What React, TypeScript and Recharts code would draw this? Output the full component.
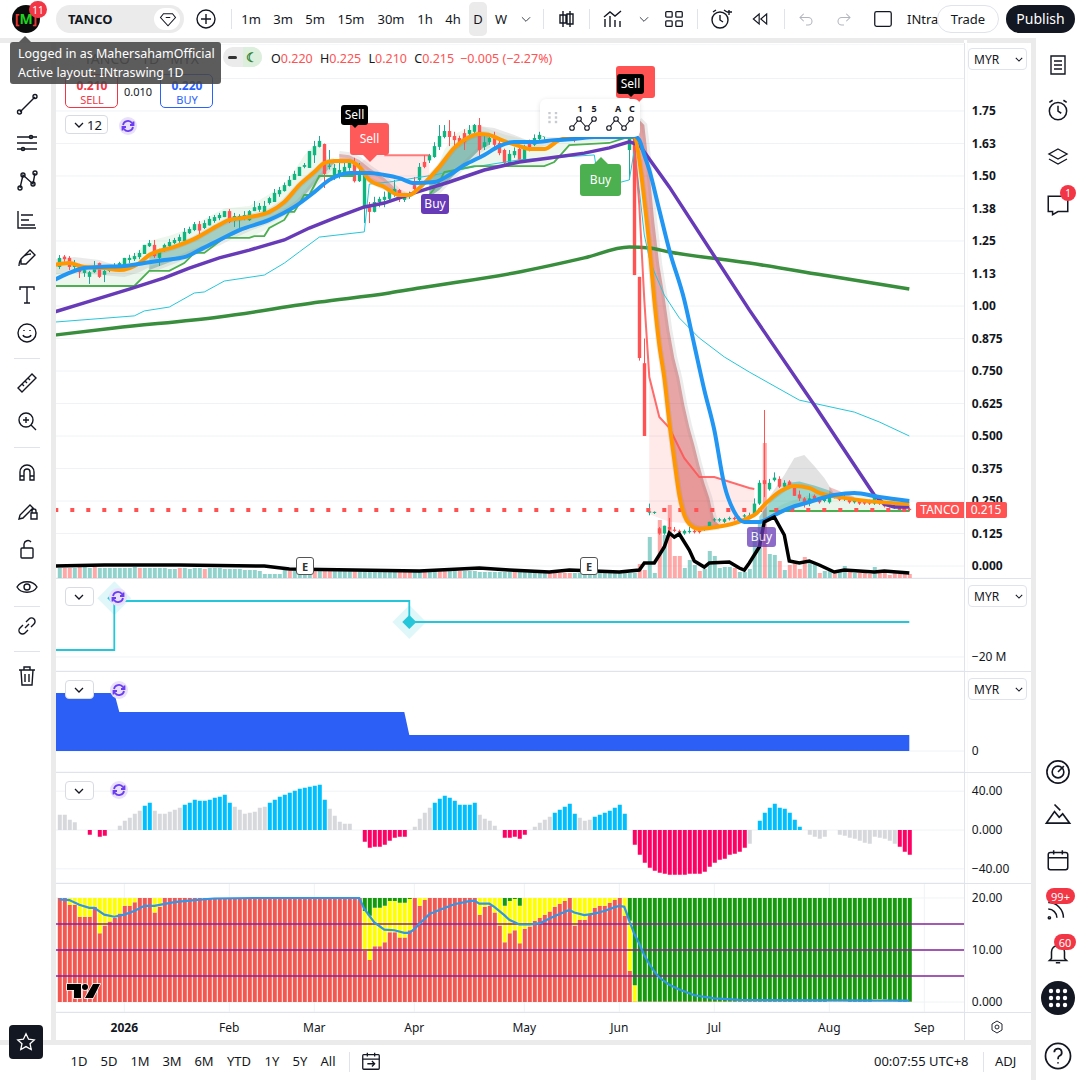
import React from "react";
import { ComposedChart, Bar, Line, Area, Cell, XAxis, YAxis, CartesianGrid, ReferenceLine, ReferenceDot } from "recharts";

// open, high, low, close for each daily bar
const candles = [
  [1.15,1.196,1.142,1.185],[1.19,1.196,1.17,1.18],[1.185,1.192,1.138,1.15],[1.15,1.177,1.14,1.162],[1.154,1.162,1.108,1.13],
  [1.127,1.15,1.112,1.138],[1.112,1.135,1.085,1.13],[1.13,1.173,1.127,1.154],[1.165,1.167,1.108,1.112],[1.12,1.15,1.092,1.135],
  [1.135,1.15,1.13,1.142],[1.138,1.165,1.135,1.15],[1.15,1.17,1.148,1.165],[1.158,1.185,1.155,1.185],[1.177,1.197,1.165,1.185],
  [1.18,1.204,1.173,1.192],[1.188,1.215,1.18,1.204],[1.2,1.235,1.2,1.235],[1.23,1.254,1.227,1.242],[1.235,1.254,1.185,1.192],
  [1.185,1.22,1.154,1.212],[1.212,1.24,1.208,1.235],[1.23,1.258,1.22,1.246],[1.242,1.262,1.238,1.254],[1.25,1.275,1.243,1.265],
  [1.25,1.3,1.245,1.285],[1.28,1.305,1.277,1.296],[1.292,1.323,1.288,1.315],[1.315,1.327,1.27,1.29],[1.3,1.33,1.296,1.319],
  [1.31,1.346,1.31,1.335],[1.327,1.35,1.32,1.342],[1.338,1.358,1.33,1.35],[1.342,1.365,1.342,1.365],[1.365,1.373,1.319,1.323],
  [1.327,1.358,1.304,1.346],[1.33,1.353,1.296,1.346],[1.335,1.365,1.33,1.35],[1.33,1.369,1.327,1.365],[1.365,1.404,1.365,1.38],
  [1.37,1.396,1.362,1.385],[1.35,1.404,1.35,1.385],[1.396,1.42,1.39,1.415],[1.4,1.45,1.4,1.435],[1.43,1.458,1.42,1.446],
  [1.442,1.475,1.44,1.465],[1.462,1.5,1.46,1.485],[1.485,1.52,1.485,1.508],[1.5,1.535,1.5,1.535],[1.535,1.55,1.53,1.542],
  [1.531,1.596,1.531,1.596],[1.58,1.635,1.55,1.615],[1.612,1.654,1.61,1.635],[1.623,1.625,1.454,1.508],[1.535,1.6,1.525,1.54],
  [1.504,1.546,1.485,1.531],[1.508,1.55,1.49,1.523],[1.508,1.55,1.5,1.535],[1.531,1.56,1.52,1.55],[1.546,1.57,1.475,1.48],
  [1.48,1.55,1.477,1.508],[1.38,1.504,1.319,1.504],[1.38,1.4,1.319,1.362],[1.362,1.42,1.36,1.4],[1.4,1.42,1.38,1.412],
  [1.408,1.44,1.38,1.42],[1.412,1.45,1.405,1.446],[1.438,1.485,1.42,1.45],[1.446,1.45,1.4,1.43],[1.408,1.435,1.4,1.42],
  [1.42,1.44,1.412,1.43],[1.465,1.496,1.44,1.45],[1.485,1.55,1.48,1.535],[1.554,1.58,1.53,1.535],[1.56,1.585,1.55,1.58],
  [1.573,1.63,1.57,1.615],[1.612,1.696,1.6,1.654],[1.65,1.696,1.645,1.673],[1.673,1.715,1.615,1.65],[1.654,1.67,1.608,1.638],
  [1.646,1.655,1.615,1.63],[1.665,1.68,1.6,1.63],[1.662,1.696,1.65,1.677],[1.67,1.7,1.665,1.696],[1.696,1.723,1.573,1.6],
  [1.612,1.665,1.6,1.63],[1.63,1.66,1.62,1.646],[1.646,1.67,1.6,1.62],[1.627,1.65,1.58,1.588],[1.6,1.605,1.535,1.55],
  [1.55,1.6,1.55,1.585],[1.58,1.61,1.57,1.596],[1.604,1.62,1.56,1.562],[1.562,1.62,1.555,1.615],[1.627,1.64,1.595,1.6],
  [1.62,1.66,1.615,1.646],[1.642,1.67,1.635,1.658],[1.65,1.67,1.64,1.665],[1.66,1.69,1.655,1.68],[1.68,1.7,1.66,1.67],
  [1.67,1.7,1.66,1.69],[1.69,1.72,1.68,1.7],[1.7,1.72,1.67,1.68],[1.68,1.7,1.63,1.66],[1.66,1.69,1.65,1.68],
  [1.68,1.71,1.67,1.7],[1.7,1.72,1.68,1.69],[1.69,1.7,1.66,1.68],[1.68,1.71,1.67,1.7],[1.7,1.73,1.69,1.72],
  [1.72,1.74,1.68,1.69],[1.69,1.72,1.67,1.71],[1.71,1.76,1.7,1.74],[1.74,1.78,1.66,1.67],[1.6,1.72,1.485,1.66],
  [1.7,1.74,1.119,1.119],[1.112,1.112,0.79,0.8],[0.78,0.875,0.5,0.5],[0.205,0.24,0.195,0.21],[0.205,0.21,0.2,0.208],
  [0.145,0.15,0.12,0.125],[0.125,0.155,0.12,0.155],[0.15,0.185,0.125,0.14],[0.14,0.15,0.13,0.135],[0.135,0.14,0.125,0.13],
  [0.125,0.14,0.12,0.135],[0.13,0.15,0.125,0.135],[0.135,0.14,0.125,0.13],[0.135,0.14,0.125,0.13],[0.14,0.15,0.135,0.15],
  [0.145,0.17,0.14,0.17],[0.175,0.185,0.17,0.18],[0.175,0.185,0.17,0.18],[0.17,0.185,0.165,0.18],[0.18,0.19,0.175,0.185],
  [0.185,0.19,0.175,0.18],[0.18,0.19,0.175,0.185],[0.19,0.2,0.185,0.195],[0.19,0.205,0.185,0.195],[0.2,0.26,0.195,0.24],
  [0.24,0.33,0.235,0.32],[0.33,0.6,0.265,0.315],[0.295,0.335,0.29,0.32],[0.33,0.36,0.325,0.34],[0.335,0.345,0.3,0.305],
  [0.305,0.33,0.3,0.32],[0.325,0.33,0.3,0.305],[0.31,0.315,0.27,0.27],[0.275,0.29,0.25,0.26],[0.26,0.265,0.225,0.24],
  [0.24,0.28,0.23,0.26],[0.27,0.275,0.25,0.255],[0.255,0.26,0.24,0.245],[0.25,0.27,0.245,0.26],[0.245,0.28,0.24,0.275],
  [0.275,0.28,0.26,0.265],[0.27,0.275,0.25,0.255],[0.26,0.28,0.25,0.262],[0.26,0.265,0.24,0.245],[0.245,0.26,0.24,0.255],
  [0.25,0.255,0.235,0.24],[0.25,0.255,0.235,0.24],[0.25,0.255,0.235,0.24],[0.24,0.27,0.235,0.265],[0.265,0.27,0.235,0.24],
  [0.24,0.245,0.225,0.23],[0.24,0.245,0.225,0.23],[0.23,0.235,0.22,0.225],[0.225,0.23,0.21,0.215],[0.22,0.225,0.21,0.215],
  [0.22,0.225,0.21,0.215],
];

// moving averages and levels, as [bar, price]
const fastMa = [[0,1.158],[3,1.165],[6,1.15],[10,1.146],[13,1.138],[17,1.165],[19,1.196],[24,1.227],[28,1.258],[33,1.312],[35,1.331],[39,1.342],[43,1.362],[46,1.4],[49,1.465],[52,1.515],[54,1.55],[56,1.558],[59,1.558],[61,1.535],[63,1.485],[66,1.458],[69,1.427],[71,1.427],[73,1.454],[75,1.492],[77,1.535],[80,1.608],[83,1.65],[85,1.662],[87,1.658],[89,1.642],[93,1.615],[95,1.604],[98,1.604],[101,1.638],[109,1.665],[114,1.669],[116,1.658],[117,1.562],[118,1.408],[119,1.235],[120,1.023],[121,0.85],[122,0.723],[123,0.554],[124,0.408],[125,0.273],[126,0.196],[127,0.162],[129,0.142],[131,0.146],[140,0.196],[142,0.235],[145,0.285],[148,0.308],[151,0.3],[153,0.281],[157,0.265],[171,0.238]];
const midMa = [[0,1.1],[3,1.127],[6,1.146],[9,1.15],[14,1.154],[18,1.165],[22,1.177],[26,1.188],[29,1.215],[33,1.254],[37,1.292],[43,1.331],[48,1.381],[52,1.438],[55,1.485],[59,1.512],[63,1.512],[66,1.504],[69,1.492],[72,1.473],[76,1.477],[79,1.504],[82,1.542],[86,1.581],[89,1.615],[92,1.631],[96,1.631],[100,1.638],[104,1.642],[108,1.65],[113,1.65],[116,1.654],[117,1.638],[118,1.581],[119,1.523],[121,1.369],[123,1.215],[126,1.023],[128,0.85],[130,0.677],[132,0.523],[134,0.312],[136,0.208],[138,0.169],[141,0.169],[144,0.196],[147,0.223],[151,0.246],[156,0.273],[160,0.281],[165,0.265],[171,0.25]];
const slowMa = [[0,0.977],[6,1.012],[15,1.065],[22,1.108],[27,1.146],[33,1.185],[39,1.215],[46,1.254],[51,1.3],[56,1.338],[62,1.381],[66,1.396],[72,1.435],[79,1.477],[86,1.523],[93,1.554],[99,1.569],[106,1.588],[111,1.608],[115,1.631],[117,1.619],[123,1.458],[139,0.985],[152,0.619],[164,0.273],[166,0.238],[168,0.227],[171,0.227]];
const longMa = [[0,0.888],[12,0.915],[33,0.958],[53,1.015],[67,1.05],[73,1.069],[93,1.131],[106,1.185],[115,1.227],[119,1.223],[123,1.208],[139,1.165],[155,1.115],[171,1.065]];
const thinTrail = [[0,0.938],[16,0.962],[18,0.981],[23,0.996],[28,1.05],[30,1.054],[34,1.096],[42,1.119],[46,1.165],[49,1.208],[53,1.265],[62,1.285],[63,1.469],[67,1.477],[72,1.492],[76,1.504],[84,1.535],[93,1.562],[108,1.581],[109,1.454],[115,1.485],[116,1.6],[117,1.446],[118,1.273],[119,1.185],[120,1.131],[122,1.042],[125,0.954],[129,0.877],[134,0.804],[139,0.746],[149,0.638],[160,0.592],[165,0.554],[171,0.5]];
const stopA = [[0,1.077],[16,1.077],[19,1.135],[23,1.135],[26,1.165],[28,1.204],[30,1.204],[34,1.262],[39,1.262],[40,1.269],[42,1.269],[43,1.3],[46,1.331],[47,1.362],[48,1.362],[50,1.427],[51,1.427],[53,1.5],[60,1.5]];
const stopB = [[75,1.427],[77,1.477],[78,1.515],[84,1.538],[98,1.538],[100,1.554],[103,1.619],[111,1.627],[114,1.646],[116,1.646]];
const stopC = [[143,0.212],[171,0.212]];
const stopRedA = [[66,1.58],[75,1.58]];
const stopRedB = [[116,1.638],[117,1.388],[118,1.023],[119,0.727],[121,0.573],[123,0.531],[126,0.415],[129,0.342],[132,0.342],[139,0.3],[140,0.296]];

// shaded bands, as [bar, lower, upper]
const paleGreenA = [[0,1.077,1.16],[13,1.077,1.165],[16,1.077,1.2],[19,1.135,1.25],[23,1.135,1.27],[26,1.165,1.29],[28,1.204,1.31],[30,1.204,1.335],[34,1.262,1.375],[39,1.262,1.385],[43,1.3,1.43],[46,1.331,1.47],[48,1.362,1.52],[50,1.427,1.58],[52,1.45,1.62],[53,1.5,1.62],[55,1.5,1.56],[60,1.5,1.54]];
const paleGreenB = [[75,1.427,1.45],[78,1.515,1.6],[80,1.52,1.66],[84,1.538,1.7],[90,1.538,1.66],[98,1.538,1.62],[103,1.619,1.64],[116,1.646,1.66]];
const paleGreenC = [[143,0.212,0.21],[146,0.212,0.24],[152,0.212,0.28],[160,0.212,0.28],[171,0.212,0.25]];
const paleRedA = [[61,1.535,1.545],[63,1.485,1.58],[66,1.458,1.58],[69,1.427,1.58],[71,1.427,1.58],[73,1.454,1.58],[75,1.492,1.58]];
const paleRedB = [[119,0.2,0.727],[121,0.185,0.573],[123,0.17,0.531],[126,0.165,0.415],[127,0.162,0.39],[129,0.142,0.342],[131,0.146,0.342],[132,0.15,0.342],[139,0.19,0.3],[140,0.196,0.296]];
const grayStart = [[0,1.12,1.18],[4,1.127,1.188],[9,1.12,1.177],[14,1.112,1.146],[17,1.13,1.165],[19,1.15,1.196]];
const tealA = [[19,1.138,1.196],[24,1.175,1.227],[28,1.208,1.258],[33,1.245,1.312],[35,1.265,1.331],[39,1.3,1.342],[43,1.33,1.362],[46,1.36,1.4],[49,1.4,1.465],[52,1.47,1.515],[54,1.51,1.55],[56,1.55,1.558]];
const redRibbonA = [[57,1.558,1.585],[59,1.558,1.58],[61,1.535,1.562],[63,1.485,1.531],[66,1.458,1.492],[69,1.427,1.438],[71,1.42,1.42]];
const tealB = [[75,1.419,1.492],[77,1.446,1.535],[80,1.504,1.608],[83,1.562,1.65],[85,1.6,1.662],[87,1.62,1.658]];
const grayB = [[85,1.662,1.692],[88,1.65,1.685],[92,1.62,1.658],[96,1.604,1.627],[100,1.625,1.64]];
const redRibbonB = [[117,1.562,1.715],[118,1.408,1.696],[119,1.235,1.523],[120,1.023,1.323],[121,0.85,1.158],[122,0.723,1.042],[123,0.554,0.908],[124,0.408,0.8],[125,0.273,0.723],[126,0.196,0.619],[127,0.162,0.535],[128,0.15,0.465],[129,0.142,0.388],[130,0.143,0.319],[131,0.146,0.262],[132,0.15,0.177],[133,0.15,0.158]];
const grayC = [[143,0.24,0.265],[146,0.285,0.35],[148,0.308,0.415],[150,0.3,0.427],[152,0.29,0.385],[154,0.275,0.338],[156,0.27,0.277]];
const tealC = [[141,0.17,0.19],[144,0.196,0.27],[147,0.223,0.32],[149,0.24,0.325],[152,0.255,0.31],[155,0.27,0.29],[156,0.273,0.275]];
const redRibbonC = [[155,0.27,0.304],[160,0.255,0.265]];

// volume, one value per bar, and its average as [bar, value]
const volume = [10,10,10,10,11,11,10,11,10,10,10,10,10,10,10,11,10,10,10,10,10,10,9,9,10,10,9,10,10,9,10,10,10,9,9,9,9,8,8,8,7,4,4,4,4,8,7,7,7,7,7,7,7,7,7,7,7,7,7,7,7,7,7,7,7,7,7,7,7,7,7,7,7,7,7,7,7,7,7,7,7,7,7,7,6,6,6,6,6,6,6,6,6,6,6,6,6,6,5,5,5,5,5,5,5,5,5,5,5,5,5,5,5,5,5,5,14,8,41,5,58,43,73,22,22,10,18,13,7,9,27,22,10,11,11,10,6,6,9,48,58,135,24,23,17,8,13,17,9,21,15,15,5,7,9,5,6,12,7,5,5,6,4,11,6,6,3,5,4,4,4];
const volumeDown = [2,3,5,8,17,25,30,47,52,54,55,60,69,70,71,74,77,78,81,92,99,100,101,102,103,117,118,121,123,124,125,129,136,142,145,147,148,149,150,153,156,159,161,162,163,165,166,167,168,169,170,171];
const volumeAvg = [[0,12],[10,13],[25,13],[42,12],[47,9],[60,8],[73,7],[85,10],[91,8],[99,6],[103,8],[113,6],[117,8],[118,15],[120,15],[122,31],[123,45],[124,41],[125,44],[127,28],[128,17],[130,11],[131,15],[135,16],[137,10],[138,8],[139,15],[141,31],[142,56],[144,61],[146,43],[147,17],[149,15],[151,17],[153,13],[156,6],[158,8],[164,6],[166,7],[171,5]];

// flow lines of the two middle panes
const netFlow = [[0,-17.67],[12,-1.33],[71,-8.33],[171,-8.33]];
const flowMarks = [[12,-0.4],[71,-8.33]];
const foreignFlow = [[0,58],[12,58],[13,39],[70,39],[71,16],[171,16]];

// momentum histogram
const momentum = [15.8,15.8,10.7,7.9,0,0,-4.8,0,-6.9,-5.8,0,0,4.5,9.6,12.7,16.8,19.9,25.1,28.2,19.9,16.8,16.8,18.9,21,23,26.1,28.2,31.3,30.2,30.2,31.3,33.3,34.4,36.4,28.2,24.1,21,16.8,17.9,18.9,23,24.1,28.2,31.3,34.4,36.4,38.5,40.5,42.6,43.6,44.7,45.7,46.7,31.3,22,14.8,8.6,6.5,6.5,0,0,-12,-18.2,-17.2,-17.2,-15.1,-11,-7.9,-6.9,-6.9,0,3.4,11.7,17.9,23,28.2,32.3,35.4,33.3,30.2,26.1,26.1,26.1,28.2,15.8,11.7,9.6,4.5,0,-7.9,-7.9,-6.9,-8.9,-4.8,0,3.4,7.6,10.7,13.7,17.9,21,24.1,27.1,16.8,12.7,9.6,10.7,13.7,15.8,17.9,19.9,23,26.1,16.8,0,-15.1,-25.4,-33.7,-38.8,-41.9,-44,-45,-46,-46,-46,-46,-45,-45,-45,-43,-37.8,-33.7,-30.6,-29.6,-25.4,-24.4,-22.3,-18.2,-14.1,0,9.6,17.9,23,27.1,23,22,17.9,10.7,3.4,0,-4.8,-6.9,-8.9,-6.9,0,0,-4.8,-5.8,-7.9,-8.9,-11,-13,-14.1,-6.9,-7.9,-8.9,-11,-14.1,-17.2,-22.3,-25.4];
const momentumUpRuns = [[18,19],[26,35],[43,54],[76,84],[100,104],[108,114],[141,149]];
const momentumDownRuns = [[7,7],[9,10],[62,70],[90,94],[116,138],[169,171]];

// bottom pane: stacked shares out of 20
const shareRed = [20,20,18.7,18.7,16.4,16.4,16.4,18.3,13.2,14.7,15.5,16.2,17,18.5,18.5,19.2,20,20,20,17.2,18.3,20,20,20,20,20,20,20,20,20,20,20,20,20,20,20,20,20,20,20,20,20,20,20,20,20,20,20,20,20,20,20,20,20,20,20,20,20,20,20,20,9.8,8.1,10.7,10.7,11.5,13.4,13.4,12.4,12.4,13.8,20,18.5,19.6,20,20,20,20,20,20,20,20,20,20,16.8,18.3,18.5,17.2,14.7,11.5,13.2,13.8,11.3,14.1,14.5,15.6,16.2,16.8,17.4,18.3,18.9,19.4,20,14.7,15.8,15.8,16.8,18.1,18.5,18.5,19.1,19.6,20,16.6,6,0.1,0.1,0.1,0.1,0.1,0.1,0.1,0.1,0.1,0.1,0.1,0.1,0.1,0.1,0.1,0.1,0.1,0.1,0.1,0.1,0.1,0.1,0.1,0.1,0.1,0.1,0.1,0.1,0.1,0.1,0.1,0.1,0.1,0.1,0.1,0.1,0.1,0.1,0.1,0.1,0.1,0.1,0.1,0.1,0.1,0.1,0.1,0.1,0.1,0.1,0.1,0.1,0.1,0.1,0.1,0.1];
const shareGreen = [[62,2.5],[63,3.4],[64,1.9],[65,1.9],[66,1.5],[67,0.6],[68,0.6],[69,0.9],[70,0.9],[71,0.2],[90,1.5],[91,0.6],[92,0.2],[93,1.5],[115,4.4],[116,16.8]];
const shareYellowLate = [[155,0.3],[156,0.3],[157,0.3],[158,0.3],[164,0.5],[165,0.5],[166,0.4],[167,0.3],[168,0.3]];
const shareAvg = [[1,19.75],[3,19.6],[5,18.7],[7,18.1],[8,18.1],[10,16.8],[12,16.4],[14,16.8],[16,17.5],[18,18.5],[20,18.5],[24,19.2],[28,19.6],[32,19.9],[40,20],[61,20],[62,17.9],[64,15.3],[66,13.9],[68,13.8],[70,13.3],[71,13.3],[72,14],[73,15],[75,16.9],[77,17.7],[80,18.8],[83,19.4],[84,19.5],[85,18.9],[87,18.9],[88,18.3],[90,16.7],[91,15.8],[93,14.9],[95,14.9],[97,15.1],[100,16.5],[103,17.7],[104,17.2],[106,16.7],[108,17],[110,17.5],[112,18.2],[113,18.5],[114,18.3],[115,15.6],[116,13.1],[117,11.2],[118,9],[119,7.3],[120,5.9],[121,4.7],[123,3.3],[125,2.4],[128,1.3],[132,0.7],[137,0.4],[171,0.25]];

// axes
const monthBars = [14,35,52,72,94,113,132,155,174];
const monthNames = ["2026","Feb","Mar","Apr","May","Jun","Jul","Aug","Sep"];
const priceTicks = [0,0.125,0.25,0.375,0.5,0.625,0.75,0.875,1,1.125,1.25,1.375,1.5,1.625,1.75,1.875];
const priceLabels = ["0.000","0.125","0.250","0.375","0.500","0.625","0.750","0.875","1.00","1.13","1.25","1.38","1.50","1.63","1.75",""];
const lastClose = 0.215;

const rows: any[] = Array.from({ length: 183 }, (_, n) => ({ n }));
const put = (key: string, pts: any[]) => pts.forEach(([n, v]) => { rows[n][key] = v; });
const band = (key: string, pts: any[]) => pts.forEach(([n, lo, hi]) => { rows[n][key] = [lo, hi]; });

candles.forEach((c, i) => {
  rows[i + 1].ohlc = c;
  rows[i + 1].hl = [c[2], c[1]];
  rows[i + 1].last = lastClose;
});
rows[0].last = lastClose;
volume.forEach((v, i) => { rows[i + 1].vol = v; });
momentum.forEach((v, i) => { rows[i + 1].mom = v; });
shareRed.slice(0, 171).forEach((v, i) => {
  const n = i + 1;
  const late = shareYellowLate.find((p) => p[0] === n);
  const g = n >= 117 ? 20 - v - (late ? late[1] : 0) : (shareGreen.find((p) => p[0] === n) || [0, 0])[1];
  rows[n].red = v;
  rows[n].green = g;
  rows[n].yellow = 20 - v - g;
});
put("fast", fastMa); put("mid", midMa); put("slow", slowMa); put("long", longMa); put("thin", thinTrail);
put("stopA", stopA); put("stopB", stopB); put("stopC", stopC); put("stopRedA", stopRedA); put("stopRedB", stopRedB);
put("volAvg", volumeAvg); put("netFlow", netFlow); put("foreign", foreignFlow); put("shareAvg", shareAvg);
const bands: any[] = [
  ["paleGreenA", paleGreenA, "#4caf50", 0.1], ["paleGreenB", paleGreenB, "#4caf50", 0.1], ["paleGreenC", paleGreenC, "#4caf50", 0.12],
  ["paleRedA", paleRedA, "#ff5252", 0.13], ["paleRedB", paleRedB, "#ff5252", 0.13],
  ["grayStart", grayStart, "#8a8a8a", 0.18], ["grayB", grayB, "#8a8a8a", 0.2], ["grayC", grayC, "#8a8a8a", 0.25],
  ["tealA", tealA, "#3d9488", 0.4], ["tealB", tealB, "#3d9488", 0.55], ["tealC", tealC, "#26a69a", 0.45],
  ["redRibbonA", redRibbonA, "#c62828", 0.3], ["redRibbonB", redRibbonB, "#c62828", 0.42], ["redRibbonC", redRibbonC, "#c62828", 0.28],
];
bands.forEach(([k, pts]) => band(k, pts));
const haloed = ["tealA", "tealB", "redRibbonA", "redRibbonB"];

const inRuns = (n: number, runs: number[][]) => runs.some(([a, b]) => n >= a && n <= b);
const FONT = "'Noto Sans', sans-serif";
const GRID = "#f0f2f6";
const LINE = "#e0e3eb";
const margin = { top: 0, right: 43.2, bottom: 0, left: 51.8 };
const tickStyle = { fill: "#131722", fontSize: 12, fontFamily: FONT };

function Candle(props: any) {
  const { x, y, width, height, payload } = props;
  if (!payload.ohlc || isNaN(y)) return null;
  const [o, h, l, c] = payload.ohlc;
  const py = (p: number) => y + ((h - p) / (h - l)) * height;
  const up = c >= o;
  const mid = x + width / 2;
  const top = py(Math.max(o, c));
  const bot = py(Math.min(o, c));
  return (
    <g>
      <rect x={mid - 0.5} y={y} width={1} height={height} fill={up ? "#26a69a" : "#ff5252"} />
      <rect x={x} y={top} width={width} height={Math.max(bot - top, 1)} fill={up ? "#0fb57f" : "#ff5252"} />
    </g>
  );
}

function Pane({ top, height, domain, ticks, format, bold, showTicks = true, grid = false, bottomAxis = false, children }: any) {
  const lookup = format || ((v: any) => v);
  return (
    <div style={{ position: "absolute", left: 0, top }}>
      <ComposedChart width={1080} height={height} data={rows} margin={margin} barGap={0}>
        {grid && <CartesianGrid stroke={GRID} strokeWidth={1} />}
        <XAxis
          dataKey="n"
          type="category"
          scale="band"
          ticks={monthBars}
          interval={0}
          height={bottomAxis ? 28 : 0}
          axisLine={false}
          tickLine={false}
          tick={bottomAxis ? (p: any) => {
            const label = monthNames[monthBars.indexOf(p.payload.value)];
            return <text x={p.x} y={p.y + 12} textAnchor="middle" fontSize={12} fontFamily={FONT} fontWeight={label === "2026" ? 700 : 400} fill="#131722">{label}</text>;
          } : false}
        />
        <YAxis
          orientation="right"
          width={70}
          domain={domain}
          allowDataOverflow
          ticks={ticks}
          interval={0}
          axisLine={false}
          tickLine={false}
          tickSize={0}
          tickMargin={5}
          tick={showTicks ? { ...tickStyle, fontWeight: bold ? 700 : 400 } : false}
          tickFormatter={lookup}
        />
        {children}
      </ComposedChart>
    </div>
  );
}

const priceDomain = [-0.04615, 2.00769];

function MainPane() {
  const fmt = (v: number) => priceLabels[priceTicks.indexOf(v)];
  return (
    <>
      <Pane top={44} height={534} domain={priceDomain} ticks={priceTicks} format={fmt} bold grid />
      <Pane top={44} height={534} domain={[0, 534]} showTicks={false}>
        <Bar dataKey="vol" barSize={4} isAnimationActive={false}>
          {rows.map((r) => (
            <Cell key={r.n} fill={volumeDown.includes(r.n) ? "rgba(255,82,82,0.5)" : "rgba(38,166,154,0.5)"} />
          ))}
        </Bar>
      </Pane>
      <Pane top={44} height={534} domain={priceDomain} ticks={priceTicks} showTicks={false}>
        {bands.map(([k, , fill, op]) => (
          <Area key={k} dataKey={k} type="linear" connectNulls stroke={haloed.includes(k) ? "#8a8a8a" : "none"} strokeOpacity={0.16} strokeWidth={6} fill={fill} fillOpacity={op} isAnimationActive={false} dot={false} activeDot={false} />
        ))}
        <Line dataKey="long" stroke="#388e3c" strokeWidth={3.5} dot={false} connectNulls type="monotone" isAnimationActive={false} />
        <Line dataKey="thin" stroke="#26c6da" strokeWidth={1} dot={false} connectNulls isAnimationActive={false} />
        <Line dataKey="stopA" stroke="#4caf50" strokeWidth={1.8} dot={false} connectNulls isAnimationActive={false} />
        <Line dataKey="stopB" stroke="#4caf50" strokeWidth={1.8} dot={false} connectNulls isAnimationActive={false} />
        <Line dataKey="stopC" stroke="#4caf50" strokeWidth={2} dot={false} connectNulls isAnimationActive={false} />
        <Line dataKey="stopRedA" stroke="#ff5252" strokeOpacity={0.75} strokeWidth={2} dot={false} connectNulls isAnimationActive={false} />
        <Line dataKey="stopRedB" stroke="#ff5252" strokeOpacity={0.85} strokeWidth={2} dot={false} connectNulls isAnimationActive={false} />
        <Line dataKey="last" stroke="#ff5252" strokeWidth={4} strokeDasharray="4 12" dot={false} isAnimationActive={false} />
        <Line dataKey="slow" stroke="#673ab7" strokeWidth={3.5} dot={false} connectNulls isAnimationActive={false} />
        <Line dataKey="fast" stroke="#ff9800" strokeWidth={4} dot={false} connectNulls type="monotone" isAnimationActive={false} />
        <Line dataKey="mid" stroke="#2196f3" strokeWidth={4} dot={false} connectNulls type="monotone" isAnimationActive={false} />
        <Bar dataKey="hl" barSize={3.4} shape={Candle} isAnimationActive={false} />
      </Pane>
      <Pane top={44} height={534} domain={[0, 534]} showTicks={false}>
        <Line dataKey="volAvg" stroke="#000000" strokeWidth={3.5} dot={false} connectNulls isAnimationActive={false} />
      </Pane>
    </>
  );
}

const Diamond = (props: any) => (
  <g>
    <rect x={props.cx - 12} y={props.cy - 12} width={24} height={24} fill="#26c6da" fillOpacity={0.14} transform={`rotate(45 ${props.cx} ${props.cy})`} />
    <rect x={props.cx - 5} y={props.cy - 5} width={10} height={10} fill="#26c6da" transform={`rotate(45 ${props.cx} ${props.cy})`} />
  </g>
);

function LowerPanes() {
  return (
    <>
      <Pane top={578} height={93} domain={[-24.67, 6.33]} ticks={[-20]} format={() => "\u221220 M"} grid>
        <Line dataKey="netFlow" type="stepAfter" stroke="#26c6da" strokeWidth={1.8} dot={false} connectNulls isAnimationActive={false} />
        {flowMarks.map(([n, v]) => (
          <ReferenceDot key={n} x={n} y={v} r={5} shape={Diamond} isFront />
        ))}
      </Pane>
      <Pane top={671} height={101} domain={[-21, 80]} ticks={[0]} format={() => "0"} grid>
        <Area dataKey="foreign" type="linear" connectNulls stroke="none" fill="#2b5ff5" fillOpacity={1} isAnimationActive={false} dot={false} activeDot={false} />
      </Pane>
      <Pane top={772} height={111} domain={[-54.6, 59.8]} ticks={[-40, 0, 40]} format={(v: number) => (v === 40 ? "40.00" : v === 0 ? "0.000" : "\u221240.00")} grid>
        <Bar dataKey="mom" barSize={4} isAnimationActive={false}>
          {rows.map((r) => (
            <Cell key={r.n} fill={inRuns(r.n, momentumUpRuns) ? "#00bfff" : inRuns(r.n, momentumDownRuns) ? "#ff0063" : "#d6d8dc"} />
          ))}
        </Bar>
      </Pane>
      <Pane top={883} height={157} domain={[-1.92, 22.88]} ticks={[0, 10, 20]} format={(v: number) => (v === 0 ? "0.000" : v === 10 ? "10.00" : "20.00")} grid bottomAxis>
        <Bar dataKey="red" stackId="s" barSize={4} fill="#f4574f" isAnimationActive={false} />
        <Bar dataKey="yellow" stackId="s" barSize={4} fill="#ffff00" isAnimationActive={false} />
        <Bar dataKey="green" stackId="s" barSize={4} fill="#149a0c" isAnimationActive={false} />
        <ReferenceLine y={15} stroke="#86229a" strokeWidth={1.3} />
        <ReferenceLine y={10} stroke="#86229a" strokeWidth={1.3} />
        <ReferenceLine y={5} stroke="#86229a" strokeWidth={1.3} />
        <Line dataKey="shareAvg" stroke="#2f96e8" strokeWidth={2.2} dot={false} connectNulls isAnimationActive={false} />
      </Pane>
    </>
  );
}

const Box = ({ x, y, w, h, style, children }: any) => (
  <div style={{ position: "absolute", left: x, top: y, width: w, height: h, boxSizing: "border-box", ...style }}>{children}</div>
);
const Txt = ({ x, y, size = 13, color = "#131722", weight = 400, center, children }: any) => (
  <div style={{ position: "absolute", left: x, top: y, transform: `translate(${center ? "-50%" : "0"},-50%)`, fontSize: size, color, fontWeight: weight, whiteSpace: "nowrap", lineHeight: 1 }}>{children}</div>
);
const Icon = ({ x, y, s = 24, sw = 1.4, color = "#131722", children }: any) => (
  <svg style={{ position: "absolute", left: x - s / 2, top: y - s / 2 }} width={s} height={s} viewBox="0 0 24 24" fill="none" stroke={color} strokeWidth={sw}>{children}</svg>
);
const Sync = ({ x, y }: any) => (
  <Box x={x - 9} y={y - 9} w={18} h={18} style={{ borderRadius: 9, background: "#e9e1fb" }}>
    <svg width={18} height={18} viewBox="0 0 18 18" fill="none" stroke="#6a3df0" strokeWidth={1.8}>
      <path d="M4 8a5 5 0 0 1 9-2l1 1.5M14 10a5 5 0 0 1-9 2l-1-1.5" />
      <path d="M14.5 4.5v3.5h-3.5M3.5 13.5v-3.5h3.5" />
    </svg>
  </Box>
);
const Chip = ({ x, y, w = 29, label }: any) => (
  <Box x={x} y={y} w={w} h={19} style={{ border: "1px solid #d8dbe2", borderRadius: 4, background: "#fff" }}>
    <svg style={{ position: "absolute", left: 8, top: 6 }} width={10} height={6} viewBox="0 0 10 6" fill="none" stroke="#131722" strokeWidth={1.3}><path d="M1 1l4 4 4-4" /></svg>
    {label && <Txt x={21} y={9} size={13}>{label}</Txt>}
  </Box>
);
const Currency = ({ y }: any) => (
  <Box x={968} y={y} w={59} h={22} style={{ border: "1px solid #e0e3eb", borderRadius: 4, background: "#fff" }}>
    <Txt x={5} y={10.5} size={12}>MYR</Txt>
    <svg style={{ position: "absolute", left: 46, top: 8 }} width={8} height={5} viewBox="0 0 10 6" fill="none" stroke="#131722" strokeWidth={1.3}><path d="M1 1l4 4 4-4" /></svg>
  </Box>
);
const Tag = ({ x, y, w, h, bg, label, size = 12, arrow, tip, alpha = 1 }: any) => (
  <Box x={x} y={y} w={w} h={h} style={{ background: bg, borderRadius: 3, opacity: alpha }}>
    <Txt x={w / 2} y={h / 2} size={size} color="#fff" center>{label}</Txt>
    {arrow === "down" && <div style={{ position: "absolute", left: w / 2 - (tip || 7), top: h, borderLeft: `${tip || 7}px solid transparent`, borderRight: `${tip || 7}px solid transparent`, borderTop: `${tip || 7}px solid ${bg}` }} />}
    {arrow === "up" && <div style={{ position: "absolute", left: w / 2 - (tip || 7), top: -(tip || 7), borderLeft: `${tip || 7}px solid transparent`, borderRight: `${tip || 7}px solid transparent`, borderBottom: `${tip || 7}px solid ${bg}` }} />}
  </Box>
);
const Earnings = ({ x }: any) => (
  <Box x={x} y={557} w={18} h={18} style={{ background: "#fff", border: "1.5px solid #555", borderRadius: 3 }}>
    <Txt x={8} y={8} size={11} weight={700} color="#333" center>E</Txt>
  </Box>
);
const Zig = ({ x, y }: any) => (
  <svg style={{ position: "absolute", left: x, top: y }} width={28} height={18} viewBox="0 0 28 18" fill="#fff" stroke="#131722" strokeWidth={1.1}>
    <path d="M3 14L10 5L18 14L25 5" fill="none" />
    <circle cx={3} cy={14} r={2.3} /><circle cx={10} cy={5} r={2.3} /><circle cx={18} cy={14} r={2.3} /><circle cx={25} cy={5} r={2.3} />
  </svg>
);

const intervals: any[] = [["1m",251],["3m",283],["5m",315],["15m",351],["30m",391],["1h",425],["4h",453],["W",501]];
const ranges: any[] = [["1D",79],["5D",109],["1M",140],["3M",172],["6M",204],["YTD",239],["1Y",272],["5Y",300],["All",328]];

function Toolbars() {
  return (
    <>
      {/* white gutters that frame the panes */}
      <Box x={0} y={0} w={51} h={1080} style={{ background: "#fff" }} />
      <Box x={51} y={0} w={5} h={1080} style={{ background: "#ebebeb" }} />
      <Box x={0} y={0} w={1080} h={38} style={{ background: "#fff" }} />
      <Box x={0} y={38} w={1080} h={5} style={{ background: "#ebebeb" }} />
      <Box x={964} y={40} w={3} h={1000} style={{ background: "#fff" }} />
      <Box x={964} y={43} w={1} h={997} style={{ background: LINE }} />
      <Box x={1036} y={0} w={44} h={1080} style={{ background: "#fff" }} />
      <Box x={1031} y={38} w={5} h={1042} style={{ background: "#ebebeb" }} />
      <Box x={0} y={1040} w={1032} h={5} style={{ background: "#ebebeb" }} />
      <Box x={0} y={1045} w={1031} h={35} style={{ background: "#fff" }} />
      <Box x={56} y={578} w={975} h={1} style={{ background: LINE }} />
      <Box x={56} y={671} w={975} h={1} style={{ background: LINE }} />
      <Box x={56} y={772} w={975} h={1} style={{ background: LINE }} />
      <Box x={56} y={883} w={975} h={1} style={{ background: LINE }} />
      <Box x={56} y={1012} w={975} h={1} style={{ background: LINE }} />

      {/* top bar */}
      <Box x={12} y={5} w={28} h={28} style={{ borderRadius: 14, background: "#0a0a0a" }}>
        <Txt x={14} y={14} size={14} weight={700} color="#e53935" center>[<span style={{ color: "#1fd11f" }}>M</span>]</Txt>
      </Box>
      <Box x={29} y={1} w={18} h={17} style={{ borderRadius: 9, background: "#f23645" }}><Txt x={9} y={8.5} size={10} color="#fff" center>11</Txt></Box>
      <Box x={56} y={5} w={128} h={28} style={{ borderRadius: 14, background: "#ebebeb" }}>
        <Txt x={12} y={14} size={13} weight={700}>TANCO</Txt>
        <Box x={98} y={3} w={26} h={22} style={{ borderRadius: 11, background: "#fff" }} />
      </Box>
      <Icon x={168} y={19} s={18}><path d="M6 5h12l4 5-10 11L2 10z" /><path d="M9 10h6" /></Icon>
      <Icon x={206} y={19} s={24}><circle cx={12} cy={12} r={9} /><path d="M12 7v10M7 12h10" /></Icon>
      {intervals.map(([t, x]) => <Txt key={t} x={x} y={19} size={13} center>{t}</Txt>)}
      <Box x={469} y={2} w={18} h={34} style={{ background: "#ebebeb", borderRadius: 5 }} />
      <Txt x={478} y={19} size={13} center>D</Txt>
      <Icon x={526} y={19} s={14}><path d="M5 9l7 7 7-7" /></Icon>
      <Box x={231} y={9} w={1} h={20} style={{ background: LINE }} />
      <Box x={543} y={9} w={1} h={20} style={{ background: LINE }} />
      <Icon x={566} y={19}><path d="M9 4v16M6 8h6v8H6zM16 4v16M13 7h6v10h-6z" /></Icon>
      <Box x={589} y={9} w={1} h={20} style={{ background: LINE }} />
      <Icon x={613} y={19}><path d="M4 20V12M9 20V9M14 20v-7M19 20v-6M3 10l6-5 5 4 6-5" /></Icon>
      <Icon x={644} y={19} s={14}><path d="M5 9l7 7 7-7" /></Icon>
      <Icon x={674} y={19} s={22}><rect x={3} y={4} width={7} height={6} rx={1} /><rect x={14} y={4} width={7} height={6} rx={1} /><rect x={3} y={14} width={7} height={6} rx={1} /><rect x={14} y={14} width={7} height={6} rx={1} /></Icon>
      <Box x={697} y={9} w={1} h={20} style={{ background: LINE }} />
      <Icon x={721} y={19}><circle cx={11} cy={13} r={8} /><path d="M11 8v5l3 2M4 5l3-2M18 5l-3-2M20 3v5M18 5h5" /></Icon>
      <Icon x={760} y={19} s={20}><path d="M11 6l-7 6 7 6zM20 6l-7 6 7 6z" /></Icon>
      <Box x={784} y={9} w={1} h={20} style={{ background: LINE }} />
      <Icon x={806} y={19} s={18} color="#b2b5be"><path d="M9 5L4 10l5 5M4 10h11a5 5 0 0 1 0 10h-3" /></Icon>
      <Icon x={844} y={19} s={18} color="#b2b5be"><path d="M15 5l5 5-5 5M20 10H9a5 5 0 0 0 0 10h3" /></Icon>
      <Icon x={883} y={19} s={22}><rect x={3} y={4} width={18} height={16} rx={2} /></Icon>
      <Txt x={907} y={19} size={13}>INtra</Txt>
      <Box x={937} y={5} w={62} h={28} style={{ borderRadius: 14, background: "#fff", border: "1px solid #e0e3eb" }}>
        <Txt x={30} y={13} size={13} center>Trade</Txt>
      </Box>
      <Box x={1006} y={5} w={69} h={28} style={{ borderRadius: 14, background: "#131722" }}>
        <Txt x={34.5} y={14} size={14} color="#fff" center>Publish</Txt>
      </Box>

      {/* left drawing tools */}
      <Icon x={27} y={104}><path d="M5 20L20 5" /><circle cx={4.5} cy={20} r={2} /><circle cx={20} cy={4.5} r={2} /></Icon>
      <Icon x={27} y={143}><path d="M2 6h20M2 12h20M2 18h20" /><circle cx={16} cy={6} r={1.6} /><circle cx={8} cy={18} r={1.6} /></Icon>
      <Icon x={27} y={181}><path d="M5 19L8 6l10 9 2-11" /><circle cx={5} cy={19} r={2} /><circle cx={8} cy={6} r={2} /><circle cx={18} cy={15} r={2} /><circle cx={20} cy={4} r={2} /></Icon>
      <Icon x={27} y={219}><path d="M3 4v17h18M6 8h12M6 13h8M6 18h14" /></Icon>
      <Icon x={27} y={258}><path d="M4 20c0-7 5-12 12-12M15 4l5 5-9 9H6v-5z" /></Icon>
      <Icon x={27} y={295}><path d="M5 7V4h14v3M12 4v16M9 20h6" /></Icon>
      <Icon x={27} y={333}><circle cx={12} cy={12} r={9} /><path d="M8 14c1 3 7 3 8 0" /><path d="M9 9v1M15 9v1" /></Icon>
      <Box x={14} y={358} w={26} h={1} style={{ background: LINE }} />
      <Icon x={27} y={383}><path d="M3 17L17 3l4 4L7 21zM7 13l2 2M10 10l2 2M13 7l2 2" /></Icon>
      <Icon x={27} y={421}><circle cx={11} cy={11} r={7} /><path d="M16 16l5 5M8 11h6M11 8v6" /></Icon>
      <Box x={14} y={447} w={26} h={1} style={{ background: LINE }} />
      <Icon x={27} y={473}><path d="M5 19v-8a7 7 0 0 1 14 0v8h-4v-8a3 3 0 0 0-6 0v8zM5 15h4M15 15h4" /></Icon>
      <Icon x={27} y={511}><path d="M4 20l1-4L15 6l3 3L8 19zM16 14h6v6h-6zM17 14v-2a2 2 0 0 1 4 0v2" /></Icon>
      <Icon x={27} y={549}><rect x={6} y={11} width={12} height={10} rx={1} /><path d="M9 11V7a4 4 0 0 1 7-2" /></Icon>
      <Icon x={27} y={587}><path d="M2 12c4-7 16-7 20 0-4 7-16 7-20 0z" /><circle cx={12} cy={12} r={3} /></Icon>
      <Box x={14} y={606} w={26} h={1} style={{ background: LINE }} />
      <Icon x={27} y={626}><path d="M10 14l4-4M8 11l-3 3a3.5 3.5 0 0 0 5 5l3-3M16 13l3-3a3.5 3.5 0 0 0-5-5l-3 3" /></Icon>
      <Box x={14} y={651} w={26} h={1} style={{ background: LINE }} />
      <Icon x={27} y={676}><path d="M4 6h16M9 6V3h6v3M6 6l1 15h10l1-15M10 10v8M14 10v8" /></Icon>
      <Box x={9} y={1025} w={34} h={34} style={{ background: "#131722", borderRadius: 4 }}>
        <Icon x={17} y={17} s={22} color="#fff"><path d="M12 3l2.8 6 6.2.7-4.6 4.2 1.3 6.3L12 17l-5.7 3.2 1.3-6.3L3 9.7 9.2 9z" /></Icon>
      </Box>

      {/* right sidebar */}
      <Icon x={1058} y={65}><path d="M5 3h14v18H5zM8 8h8M8 12h8M8 16h8" /></Icon>
      <Icon x={1058} y={110} s={26}><circle cx={12} cy={13} r={8} /><path d="M12 8v5l3 2M4 5l3-2M20 5l-3-2" /></Icon>
      <Icon x={1058} y={157}><path d="M12 4l9 5-9 5-9-5zM3 14l9 5 9-5" /></Icon>
      <Icon x={1058} y={205} s={26}><path d="M3 4h18v14h-9l-5 3v-3H3z" /></Icon>
      <Box x={1060} y={185} w={16} h={16} style={{ borderRadius: 8, background: "#f23645" }}><Txt x={8} y={8} size={10} color="#fff" center>1</Txt></Box>
      <Icon x={1058} y={772} s={28}><circle cx={12} cy={12} r={9.5} /><circle cx={12} cy={12} r={5} /><path d="M12 12l5-5" /></Icon>
      <Icon x={1058} y={815} s={28}><path d="M2 19l7-10 4 5 3-3 6 8zM9 3l5 5" /></Icon>
      <Icon x={1058} y={860} s={26}><rect x={3} y={5} width={18} height={16} rx={2} /><path d="M3 10h18M8 3v4M16 3v4" /></Icon>
      <Icon x={1058} y={908} s={26}><path d="M4 20a1 1 0 1 0 .1 0M3 13a8 8 0 0 1 8 8M3 7a14 14 0 0 1 14 14" /></Icon>
      <Box x={1046} y={888} w={29} h={16} style={{ borderRadius: 8, background: "#f23645" }}><Txt x={14.5} y={8} size={11} color="#fff" center>99+</Txt></Box>
      <Icon x={1058} y={953} s={26}><path d="M6 17V11a6 6 0 0 1 12 0v6l2 2H4zM10 21h4" /></Icon>
      <Box x={1054} y={934} w={22} h={16} style={{ borderRadius: 8, background: "#f23645" }}><Txt x={11} y={8} size={11} color="#fff" center>60</Txt></Box>
      <Box x={1041} y={981} w={34} h={34} style={{ borderRadius: 17, background: "#131722" }}>
        <svg width={34} height={34} viewBox="0 0 34 34" fill="#fff">
          {[10, 17, 24].map((cy) => [10, 17, 24].map((cx) => <circle key={`${cx}-${cy}`} cx={cx} cy={cy} r={2.2} />))}
        </svg>
      </Box>
      <Icon x={1058} y={1056} s={30}><circle cx={12} cy={12} r={10} /><path d="M9 9a3 3 0 1 1 4 3c-1 .5-1 1-1 2.5M12 17v1" /></Icon>

      {/* bottom bar */}
      {ranges.map(([t, x]) => <Txt key={t} x={x} y={1061} size={13} center>{t}</Txt>)}
      <Icon x={371} y={1061} s={22}><rect x={3} y={5} width={18} height={16} rx={1} /><path d="M3 10h18M8 3v4M16 3v4M8 15h8M13 12l3 3-3 3" /></Icon>
      <Box x={349} y={1052} w={1} h={20} style={{ background: LINE }} />
      <Txt x={874} y={1061} size={13}>00:07:55 UTC+8</Txt>
      <Box x={983} y={1052} w={1} h={20} style={{ background: LINE }} />
      <Txt x={995} y={1061} size={13}>ADJ</Txt>
      <Icon x={997} y={1027} s={16}><path d="M12 3l7.5 4.5v9L12 21l-7.5-4.5v-9z" /><circle cx={12} cy={12} r={3} /></Icon>
    </>
  );
}

function Overlays() {
  return (
    <>
      {/* legend */}
      <Txt x={84} y={59} size={14} color="#555">TANCO · 1D · MYX</Txt>
      <Box x={223} y={47} w={39} h={20} style={{ borderRadius: 10, background: "#ebebeb" }}>
        <Box x={5} y={9} w={9} h={3} style={{ background: "#333", borderRadius: 2 }} />
        <Box x={20} y={0} w={19} h={20} style={{ background: "#dcefdc", borderRadius: "0 10px 10px 0" }}>
          <Txt x={9} y={10} size={13} color="#2e7d32" weight={700} center>☾</Txt>
        </Box>
      </Box>
      <Txt x={271} y={59} size={12.5} color="#ff5252">
        <span style={{ color: "#131722" }}>O</span>0.220{"  "}<span style={{ color: "#131722", marginLeft: 4 }}>H</span>0.225{"  "}<span style={{ color: "#131722", marginLeft: 4 }}>L</span>0.210{"  "}<span style={{ color: "#131722", marginLeft: 4 }}>C</span>0.215<span style={{ marginLeft: 6 }}>−0.005 (−2.27%)</span>
      </Txt>
      <Box x={65} y={74} w={53} h={34} style={{ border: "1px solid #f23645", borderRadius: 5, background: "#fff" }}>
        <Txt x={26} y={11} size={12} weight={700} color="#f23645" center>0.210</Txt>
        <Txt x={26} y={24} size={11} color="#f23645" center>SELL</Txt>
      </Box>
      <Txt x={138} y={91} size={11} center>0.010</Txt>
      <Box x={160} y={74} w={53} h={34} style={{ border: "1px solid #2962ff", borderRadius: 5, background: "#fff" }}>
        <Txt x={26} y={11} size={12} weight={700} color="#2962ff" center>0.220</Txt>
        <Txt x={26} y={24} size={11} color="#2962ff" center>BUY</Txt>
      </Box>
      <Chip x={65} y={115} w={43} label="12" />
      <Sync x={128} y={126} />

      {/* signal tags */}
      <Tag x={350} y={123} w={39} h={32} bg="#ff5252" label="Sell" arrow="down" alpha={0.95} />
      <Tag x={341} y={105} w={27} h={20} bg="#000" label="Sell" arrow="down" tip={3} />
      <Tag x={421} y={194} w={28} h={20} bg="#673ab7" label="Buy" />
      <Tag x={580} y={164} w={41} h={32} bg="#4caf50" label="Buy" arrow="up" />
      <Tag x={616} y={66} w={39} h={32} bg="#ff5252" label="" arrow="down" />
      <Tag x={617} y={74} w={27} h={20} bg="#000" label="Sell" arrow="down" tip={3} />
      <Tag x={747} y={527} w={29} h={20} bg="#673ab7" label="Buy" alpha={0.75} />

      {/* symbol widget */}
      <Box x={540} y={99} w={100} h={38} style={{ background: "#fff", borderRadius: 6, boxShadow: "0 1px 5px rgba(0,0,0,0.12)" }}>
        <svg style={{ position: "absolute", left: 8, top: 13 }} width={10} height={12} fill="#c8cad0">
          {[1, 5.5, 10].map((cy) => [1.5, 8].map((cx) => <rect key={`${cx}-${cy}`} x={cx - 1.2} y={cy - 1.2} width={2.4} height={2.4} />))}
        </svg>
        <Zig x={29} y={15} />
        <Txt x={40} y={9} size={9} weight={700} center>1</Txt>
        <Txt x={54} y={9} size={9} weight={700} center>5</Txt>
        <Zig x={66} y={15} />
        <Txt x={78} y={9} size={9} weight={700} center>A</Txt>
        <Txt x={92} y={9} size={9} weight={700} center>C</Txt>
      </Box>

      <Earnings x={296} />
      <Earnings x={580} />

      {/* last price label */}
      <Box x={916} y={502} w={48} h={16} style={{ background: "#ff5252", borderRadius: "2px 0 0 2px" }}>
        <Txt x={24} y={8} size={12} color="#fff" center>TANCO</Txt>
      </Box>
      <Box x={966} y={502} w={41} h={16} style={{ background: "#ff5252", borderRadius: "0 2px 2px 0" }}>
        <Txt x={20} y={8} size={12} color="#fff" center>0.215</Txt>
      </Box>

      <Currency y={48} />
      <Currency y={585} />
      <Currency y={678} />

      <Chip x={65} y={587} />
      <Sync x={118} y={597} />
      <Chip x={65} y={680} />
      <Sync x={119} y={690} />
      <Chip x={65} y={781} />
      <Sync x={119} y={790} />

      {/* watermark */}
      <svg style={{ position: "absolute", left: 66, top: 982 }} width={36} height={20} viewBox="0 0 36 20">
        <g fill="#000" stroke="#fff" strokeWidth={1.5} paintOrder="stroke">
          <path d="M1 2h14v14H8V8H1z" />
          <circle cx={19} cy={5} r={3} />
          <path d="M27 2h7l-7 14h-8z" />
        </g>
      </svg>

      {/* login tooltip */}
      <Box x={10} y={42} w={211} h={42} style={{ background: "rgba(70,70,70,0.88)", borderRadius: 3 }}>
        <Txt x={8} y={12} size={12.5} color="#fff">Logged in as MahersahamOfficial</Txt>
        <Txt x={8} y={31} size={12.5} color="#fff">Active layout: INtraswing 1D</Txt>
      </Box>
      <div style={{ position: "absolute", left: 19, top: 36, borderLeft: "6px solid transparent", borderRight: "6px solid transparent", borderBottom: "6px solid rgba(70,70,70,0.88)" }} />
    </>
  );
}

export default function App() {
  return (
    <div style={{ position: "absolute", left: 0, top: 0, width: 1080, height: 1080, background: "#fff", overflow: "hidden", fontFamily: FONT }}>
      <MainPane />
      <LowerPanes />
      <Toolbars />
      <Overlays />
    </div>
  );
}
